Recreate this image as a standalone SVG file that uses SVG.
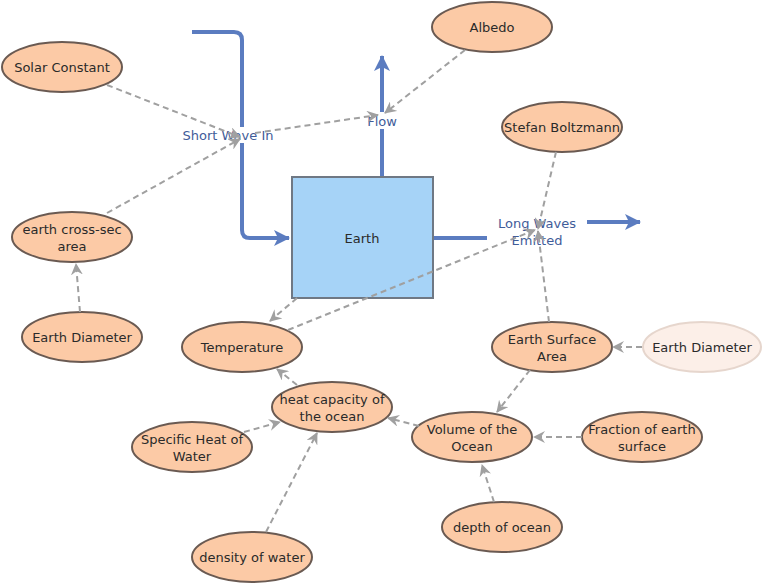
<svg xmlns="http://www.w3.org/2000/svg" width="764" height="584" viewBox="0 0 764 584">
<style>
.node ellipse{fill:#fccaa6;stroke:#6a5a52;stroke-width:2}
.node text,.box text{font-family:"DejaVu Sans","Liberation Sans",sans-serif;font-size:13px;fill:#2a2a2a;text-anchor:middle}
.faded ellipse{fill:#fcefe8;stroke:#e6d6cd;stroke-width:2}
.flow{fill:none;stroke:#5b7cc0;stroke-width:4}
.flabel{font-family:"DejaVu Sans","Liberation Sans",sans-serif;font-size:13px;fill:#3f5c99;text-anchor:middle}
.link{fill:none;stroke:#a0a0a0;stroke-width:2;stroke-dasharray:6 4}
</style>
<defs>
<marker id="ga" viewBox="0 0 12 12" refX="11" refY="6" markerWidth="12" markerHeight="12" markerUnits="userSpaceOnUse" orient="auto">
<path d="M0,0 L12,6 L0,12 L4,6 z" fill="#a0a0a0"/>
</marker>
<marker id="ba" viewBox="0 0 16 16" refX="15" refY="8" markerWidth="16" markerHeight="16" markerUnits="userSpaceOnUse" orient="auto">
<path d="M0,0 L16,8 L0,16 L4,8 z" fill="#5b7cc0"/>
</marker>
</defs>
<rect width="764" height="584" fill="#ffffff"/>
<g id="flows">
<path class="flow" d="M192,32 H234 Q242,32 242,40 V230 Q242,238 250,238 H289" marker-end="url(#ba)"/>
<path class="flow" d="M382,177 V56" marker-end="url(#ba)"/>
<path class="flow" d="M433,238 H537 V222 H640" marker-end="url(#ba)"/>
<rect x="178" y="127" width="100" height="16" fill="#ffffff"/>
<text class="flabel" x="228" y="140">Short Wave In</text>
<rect x="366" y="112" width="32" height="17" fill="#ffffff"/>
<text class="flabel" x="382" y="126">Flow</text>
<rect x="487" y="212" width="100" height="38" fill="#ffffff"/>
<text class="flabel" x="537" y="228">Long Waves</text>
<text class="flabel" x="537" y="245">Emitted</text>
</g>
<g id="Earth" class="box">
<rect x="292" y="177" width="141" height="121" fill="#a6d3f7" stroke="#6f7884" stroke-width="2"/>
<text x="362" y="243">Earth</text>
</g>
<g id="SolarConstant" class="node"><ellipse cx="62" cy="67" rx="60" ry="25"/><text x="62" y="72">Solar Constant</text></g>
<g id="Albedo" class="node"><ellipse cx="492" cy="27" rx="60" ry="25"/><text x="492" y="32">Albedo</text></g>
<g id="StefanBoltzmann" class="node"><ellipse cx="562" cy="127" rx="60" ry="25"/><text x="562" y="132">Stefan Boltzmann</text></g>
<g id="EarthCrossSec" class="node"><ellipse cx="72" cy="237" rx="60" ry="25"/><text x="72" y="234">earth cross-sec</text><text x="72" y="251">area</text></g>
<g id="EarthDiameterL" class="node"><ellipse cx="82" cy="337" rx="60" ry="25"/><text x="82" y="342">Earth Diameter</text></g>
<g id="Temperature" class="node"><ellipse cx="242" cy="347" rx="60" ry="25"/><text x="242" y="352">Temperature</text></g>
<g id="EarthSurfaceArea" class="node"><ellipse cx="552" cy="347" rx="60" ry="25"/><text x="552" y="344">Earth Surface</text><text x="552" y="361">Area</text></g>
<g id="EarthDiameterR" class="node faded"><ellipse cx="702" cy="347" rx="59" ry="25"/><text x="702" y="352">Earth Diameter</text></g>
<g id="HeatCapacity" class="node"><ellipse cx="332" cy="407" rx="60" ry="25"/><text x="332" y="404">heat capacity of</text><text x="332" y="421">the ocean</text></g>
<g id="SpecificHeat" class="node"><ellipse cx="192" cy="447" rx="60" ry="25"/><text x="192" y="444">Specific Heat of</text><text x="192" y="461">Water</text></g>
<g id="DensityWater" class="node"><ellipse cx="252" cy="557" rx="60" ry="25"/><text x="252" y="562">density of water</text></g>
<g id="VolumeOcean" class="node"><ellipse cx="472" cy="437" rx="60" ry="25"/><text x="472" y="434">Volume of the</text><text x="472" y="451">Ocean</text></g>
<g id="FractionEarth" class="node"><ellipse cx="642" cy="437" rx="60" ry="25"/><text x="642" y="434">Fraction of earth</text><text x="642" y="451">surface</text></g>
<g id="DepthOcean" class="node"><ellipse cx="502" cy="527" rx="60" ry="25"/><text x="502" y="532">depth of ocean</text></g>
<g id="connectors">
<path class="link" d="M107,85 L240,137" marker-end="url(#ga)"/>
<path class="link" d="M107,213 L240,139" marker-end="url(#ga)"/>
<path class="link" d="M255,133 L378,115" marker-end="url(#ga)"/>
<path class="link" d="M465,50 L385,113" marker-end="url(#ga)"/>
<path class="link" d="M556,152 L538,229" marker-end="url(#ga)"/>
<path class="link" d="M549,322 L538,231" marker-end="url(#ga)"/>
<path class="link" d="M288,330 L535,230" marker-end="url(#ga)"/>
<path class="link" d="M297,298 L270,321" marker-end="url(#ga)"/>
<path class="link" d="M80,312 L76,264" marker-end="url(#ga)"/>
<path class="link" d="M297,385 L277,369" marker-end="url(#ga)"/>
<path class="link" d="M244,432 L280,422" marker-end="url(#ga)"/>
<path class="link" d="M266,532 L317,433" marker-end="url(#ga)"/>
<path class="link" d="M419,426 L388,418" marker-end="url(#ga)"/>
<path class="link" d="M530,370 L497,412" marker-end="url(#ga)"/>
<path class="link" d="M582,437 L534,437" marker-end="url(#ga)"/>
<path class="link" d="M494,502 L482,465" marker-end="url(#ga)"/>
<path class="link" d="M642,347 L613,347" marker-end="url(#ga)"/>
</g>
</svg>
